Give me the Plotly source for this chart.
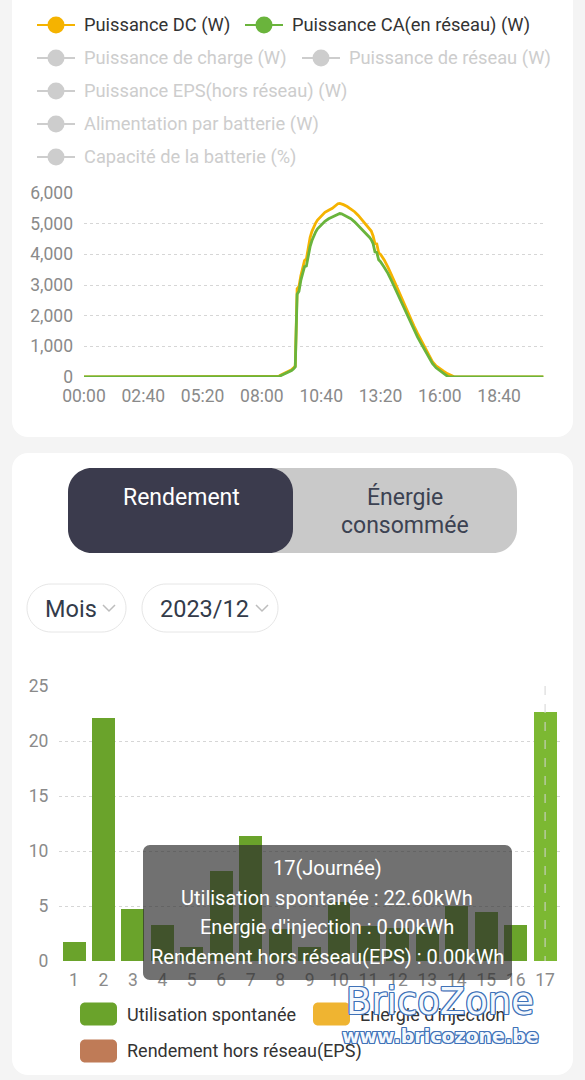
import plotly.graph_objects as go

# ---------------- data ----------------
times = ["00:00", "08:40", "08:45", "08:50", "08:55", "09:00", "09:05", "09:10", "09:15", "09:20",
         "09:25", "09:30", "09:35", "09:40", "09:45", "09:50", "09:55", "10:00", "10:05", "10:10",
         "10:15", "10:20", "10:25", "10:30", "10:40", "10:50", "11:00", "11:10", "11:20", "11:25",
         "11:30", "11:35", "11:40", "11:50", "12:00", "12:10", "12:20", "12:30", "12:40", "12:50",
         "12:55", "13:00", "13:05", "13:10", "13:15", "13:20", "13:30", "13:40", "13:50", "14:00",
         "14:10", "14:20", "14:30", "14:40", "14:50", "15:00", "15:10", "15:20", "15:30", "15:40",
         "15:50", "16:00", "16:10", "16:20", "16:25", "16:30", "16:35", "16:40", "20:40"]
dc_power = [0, 0, 20, 60, 90, 110, 140, 170, 200, 240,
            290, 360, 2880, 2950, 3300, 3600, 3800, 3850, 4250, 4550,
            4750, 4900, 5020, 5120, 5250, 5370, 5440, 5500, 5600, 5650,
            5660, 5650, 5620, 5560, 5480, 5390, 5270, 5130, 4990, 4830,
            4760, 4600, 4350, 4340, 4050, 4000, 3820, 3580, 3340, 3050,
            2770, 2480, 2210, 1930, 1670, 1420, 1180, 950, 700, 500,
            360, 260, 190, 110, 80, 40, 20, 0, 0]
ac_power = [0, 0, 10, 40, 70, 90, 110, 140, 170, 210,
            260, 330, 2700, 2800, 3150, 3400, 3600, 3620, 4000, 4250,
            4450, 4620, 4730, 4830, 4960, 5080, 5160, 5220, 5290, 5320,
            5330, 5320, 5290, 5230, 5160, 5060, 4940, 4830, 4710, 4560,
            4480, 4350, 4080, 4060, 3820, 3760, 3580, 3380, 3130, 2870,
            2600, 2320, 2060, 1800, 1560, 1300, 1080, 860, 640, 440,
            300, 200, 120, 30, 0, 0, 0, 0, 0]
time_ticks = ["00:00", "02:40", "05:20", "08:00", "10:40", "13:20", "16:00", "18:40"]
line_y_ticks = [0, 1000, 2000, 3000, 4000, 5000, 6000]

days = ["1", "2", "3", "4", "5", "6", "7", "8", "9", "10", "11", "12", "13", "14", "15", "16", "17"]
self_use = [1.7, 22.1, 4.7, 3.3, 1.3, 8.2, 11.4, 2.9, 1.3, 5.4, 3.2, 3.0, 3.1, 5.0, 4.5, 3.3, 22.6]
injection = [0] * 17
eps_yield = [0] * 17
bar_y_ticks = [0, 5, 10, 15, 20, 25]

legend_top = ["Puissance DC (W)", "Puissance CA(en réseau) (W)", "Puissance de charge (W)",
              "Puissance de réseau (W)", "Puissance EPS(hors réseau) (W)",
              "Alimentation par batterie (W)", "Capacité de la batterie (%)"]
legend_bottom = ["Utilisation spontanée", "Energie d'injection", "Rendement hors réseau(EPS)"]
tooltip_lines = ["17(Journée)", "Utilisation spontanée : 22.60kWh",
                 "Energie d'injection : 0.00kWh", "Rendement hors réseau(EPS) : 0.00kWh"]

# ---------------- helpers ----------------
W, H = 585, 1080
def X(x): return x / W
def Y(y): return 1 - y / H

def rrect(x0, y0, x1, y1, r):
    k = 0.4477 * r
    p = [f"M {X(x0 + r)},{Y(y0)}", f"L {X(x1 - r)},{Y(y0)}",
         f"C {X(x1 - k)},{Y(y0)} {X(x1)},{Y(y0 + k)} {X(x1)},{Y(y0 + r)}",
         f"L {X(x1)},{Y(y1 - r)}",
         f"C {X(x1)},{Y(y1 - k)} {X(x1 - k)},{Y(y1)} {X(x1 - r)},{Y(y1)}",
         f"L {X(x0 + r)},{Y(y1)}",
         f"C {X(x0 + k)},{Y(y1)} {X(x0)},{Y(y1 - k)} {X(x0)},{Y(y1 - r)}",
         f"L {X(x0)},{Y(y0 + r)}",
         f"C {X(x0)},{Y(y0 + k)} {X(x0 + k)},{Y(y0)} {X(x0 + r)},{Y(y0)}", "Z"]
    return " ".join(p)

def tmin(t):
    h, m = t.split(":")
    return int(h) * 60 + int(m)

FONT = "Roboto"
ORANGE = "#f5b300"
GREEN = "#6ab43c"
DIS = "#cdcdcd"
BAR_GREEN = "#6aa32b"
BAR_HI = "#7cb832"

shapes, annos = [], []

# cards
shapes.append(dict(type="path", xref="paper", yref="paper", layer="below",
                   path=rrect(12, -30, 573, 437, 16), fillcolor="white", line=dict(width=0)))
shapes.append(dict(type="path", xref="paper", yref="paper", layer="below",
                   path=rrect(12, 453, 573, 1075, 16), fillcolor="white", line=dict(width=0)))

# top legend
items = [(37, 25, ORANGE, "#333333", legend_top[0]), (245, 25, GREEN, "#333333", legend_top[1]),
         (37, 58, DIS, DIS, legend_top[2]), (302, 58, DIS, DIS, legend_top[3]),
         (37, 91, DIS, DIS, legend_top[4]), (37, 124, DIS, DIS, legend_top[5]),
         (37, 157, DIS, DIS, legend_top[6])]
for x0, yc, col, tcol, txt in items:
    shapes.append(dict(type="line", xref="paper", yref="paper", x0=X(x0), x1=X(x0 + 38),
                       y0=Y(yc), y1=Y(yc), line=dict(color=col, width=2)))
    cx = x0 + 19
    shapes.append(dict(type="circle", xref="paper", yref="paper", x0=X(cx - 8.5), x1=X(cx + 8.5),
                       y0=Y(yc + 8.5), y1=Y(yc - 8.5), fillcolor=col, line=dict(width=0)))
    annos.append(dict(xref="paper", yref="paper", x=X(x0 + 45), y=Y(yc), text=txt, showarrow=False,
                      xanchor="left", yanchor="middle", font=dict(family=FONT, size=18.3, color=tcol)))

# toggle
shapes.append(dict(type="path", xref="paper", yref="paper", layer="below",
                   path=rrect(68, 468, 517, 553, 24), fillcolor="#c9c9c9", line=dict(width=0)))
shapes.append(dict(type="path", xref="paper", yref="paper", layer="below",
                   path=rrect(68, 468, 293, 553, 24), fillcolor="#3b3b4d", line=dict(width=0)))
annos.append(dict(xref="paper", yref="paper", x=X(181), y=Y(497), text="Rendement", showarrow=False,
                  xanchor="center", yanchor="middle", font=dict(family=FONT, size=23, color="white")))
annos.append(dict(xref="paper", yref="paper", x=X(405), y=Y(497), text="Énergie", showarrow=False,
                  xanchor="center", yanchor="middle", font=dict(family=FONT, size=23, color="#3c4252")))
annos.append(dict(xref="paper", yref="paper", x=X(405), y=Y(525), text="consommée", showarrow=False,
                  xanchor="center", yanchor="middle", font=dict(family=FONT, size=23, color="#3c4252")))

# dropdowns
for x0, x1, txt, tx, chx in [(27, 126, "Mois", 43, 103), (142, 278, "2023/12", 158, 256)]:
    shapes.append(dict(type="path", xref="paper", yref="paper", layer="below",
                       path=rrect(x0, 584, x1, 632, 24), fillcolor="white",
                       line=dict(color="#e6e6e6", width=1)))
    annos.append(dict(xref="paper", yref="paper", x=X(tx), y=Y(609), text=txt, showarrow=False,
                      xanchor="left", yanchor="middle", font=dict(family=FONT, size=23.5, color="#333b4a")))
    shapes.append(dict(type="path", xref="paper", yref="paper",
                       path=f"M {X(chx)},{Y(605)} L {X(chx + 6)},{Y(611)} L {X(chx + 12)},{Y(605)}",
                       line=dict(color="#bdbdbd", width=1.5)))

# axis pointer line on bar 17
shapes.append(dict(type="line", xref="x2", yref="paper", x0=16, x1=16, y0=Y(686), y1=Y(961),
                   line=dict(color="#d5d5d5", width=1, dash="dash"), layer="above"))

# tooltip
shapes.append(dict(type="path", xref="paper", yref="paper", layer="above",
                   path=rrect(143, 845, 512, 980, 7), fillcolor="rgba(45,45,45,0.68)",
                   line=dict(width=0)))
for i, t in enumerate(tooltip_lines):
    annos.append(dict(xref="paper", yref="paper", x=X(327), y=Y(868 + 29.5 * i), text=t, showarrow=False,
                      xanchor="center", yanchor="middle", font=dict(family=FONT, size=20, color="white")))

# bottom legend
for x0, yc, col, txt in [(80, 1014, "#6aa32b", legend_bottom[0]), (313, 1014, "#efb431", legend_bottom[1]),
                         (80, 1051, "#bf7b57", legend_bottom[2])]:
    shapes.append(dict(type="path", xref="paper", yref="paper",
                       path=rrect(x0, yc - 11.5, x0 + 37, yc + 11.5, 5), fillcolor=col, line=dict(width=0)))
    annos.append(dict(xref="paper", yref="paper", x=X(x0 + 45), y=Y(yc), text=txt, showarrow=False,
                      xanchor="left", yanchor="middle", font=dict(family=FONT, size=18, color="#333333")))

# watermark
wm_shadow = ("1px 0 0 #3f72b8, -1px 0 0 #3f72b8, 0 1px 0 #3f72b8, 0 -1px 0 #3f72b8, "
             "1px 1px 0 #3f72b8, -1px -1px 0 #3f72b8, 1px -1px 0 #3f72b8, -1px 1px 0 #3f72b8")
annos.append(dict(xref="paper", yref="paper", x=X(440), y=Y(1001), text="BricoZone", showarrow=False,
                  xanchor="center", yanchor="middle",
                  font=dict(family="DejaVu Sans", size=37, color="#f4f8fd", shadow=wm_shadow)))
annos.append(dict(xref="paper", yref="paper", x=X(440), y=Y(1036), text="www.bricozone.be", showarrow=False,
                  xanchor="center", yanchor="middle",
                  font=dict(family="DejaVu Sans", size=19, color="#f4f8fd", weight="bold", shadow=wm_shadow)))

# ---------------- figure ----------------
fig = go.Figure()
tm = [tmin(t) for t in times]
fig.add_trace(go.Scatter(x=tm, y=dc_power, mode="lines", line=dict(color=ORANGE, width=2.8),
                         name=legend_top[0], xaxis="x", yaxis="y"))
fig.add_trace(go.Scatter(x=tm, y=ac_power, mode="lines", line=dict(color=GREEN, width=2.8),
                         name=legend_top[1], xaxis="x", yaxis="y"))

bar_colors = [BAR_GREEN] * (len(days) - 1) + [BAR_HI]
fig.add_trace(go.Bar(x=days, y=self_use, marker=dict(color=bar_colors, line=dict(width=0)),
                     name=legend_bottom[0], xaxis="x2", yaxis="y2"))
fig.add_trace(go.Bar(x=days, y=injection, marker=dict(color="#efb431", line=dict(width=0)),
                     name=legend_bottom[1], xaxis="x2", yaxis="y2"))
fig.add_trace(go.Bar(x=days, y=eps_yield, marker=dict(color="#bf7b57", line=dict(width=0)),
                     name=legend_bottom[2], xaxis="x2", yaxis="y2"))

tickfont = dict(family=FONT, size=17.5, color="#8a8a8a")
fig.update_layout(
    width=W, height=H, margin=dict(l=0, r=0, t=0, b=0, pad=0, autoexpand=False),
    paper_bgcolor="#f4f4f4", plot_bgcolor="rgba(0,0,0,0)",
    showlegend=False, barmode="stack", bargap=0.22,
    shapes=shapes, annotations=annos,
    xaxis=dict(domain=[X(84), X(543.6)], range=[0, 1240], tickvals=[tmin(t) for t in time_ticks],
               ticktext=time_ticks, showgrid=False, zeroline=False, showline=False, ticks="",
               tickfont=tickfont, ticklabelstandoff=6, fixedrange=True, anchor="y", automargin=False),
    yaxis=dict(domain=[Y(377), Y(193)], range=[0, 6000], tickvals=line_y_ticks, tickformat=",",
               showgrid=True, gridcolor="#d6d6d6", griddash="dot", gridwidth=1, zeroline=False,
               showline=False, ticks="", tickfont=tickfont, ticklabelstandoff=10, fixedrange=True,
               anchor="x", automargin=False),
    xaxis2=dict(domain=[X(59.3), X(559.8)], type="category", showgrid=False, zeroline=False,
                showline=False, ticks="", tickfont=tickfont, ticklabelstandoff=6, fixedrange=True,
                anchor="y2", automargin=False),
    yaxis2=dict(domain=[Y(961), Y(686)], range=[0, 25], tickvals=bar_y_ticks, showgrid=True,
                gridcolor="#d6d6d6", griddash="dot", gridwidth=1, zeroline=False, showline=False,
                ticks="", tickfont=tickfont, ticklabelstandoff=10, fixedrange=True,
                anchor="x2", automargin=False),
)

fig.write_html("out.html")
